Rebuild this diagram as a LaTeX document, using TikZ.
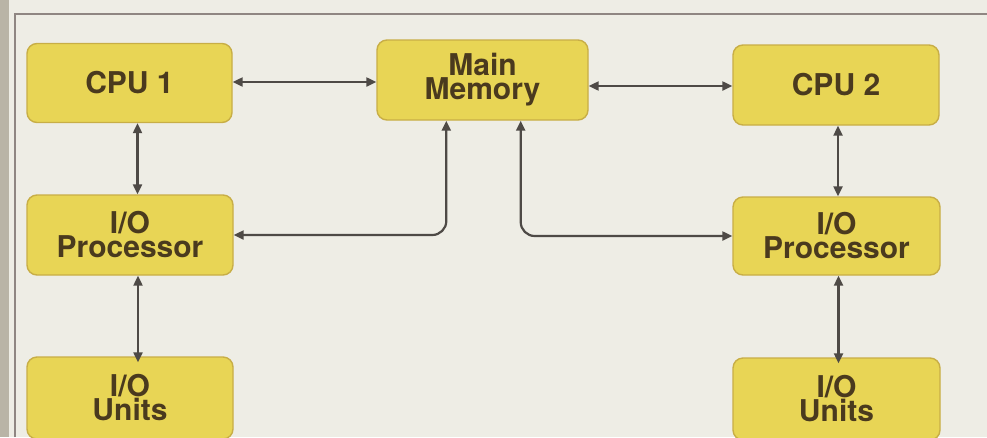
\documentclass[tikz,border=0pt]{standalone}
\usepackage{fontspec}
\setmainfont{TeX Gyre Heros}
\usetikzlibrary{arrows.meta}
\definecolor{paper}{HTML}{EEEDE5}
\definecolor{edge}{HTML}{B9B4A6}
\definecolor{framec}{HTML}{8F8682}
\definecolor{boxfill}{HTML}{E8D555}
\definecolor{boxline}{HTML}{C8AE46}
\definecolor{txt}{HTML}{4A3A1E}
\definecolor{linec}{HTML}{4E4A46}
\tikzset{
  unit/.style={draw=boxline, line width=1.4pt, fill=boxfill, rounded corners=10pt,
    text=txt, font=\bfseries\fontsize{30}{24}\selectfont, align=center,
    inner sep=0pt},
  conn/.style={draw=linec, line width=2.2pt,
    {Triangle[length=10pt,width=9pt]}-{Triangle[length=10pt,width=9pt]}},
}
\begin{document}
\begin{tikzpicture}[x=1pt,y=-1pt]
\useasboundingbox (0,0) rectangle (987,437);
\fill[paper] (0,0) rectangle (987,437);
\fill[edge] (0,0) rectangle (9,437);
\draw[framec, line width=2.2pt] (15,437) -- (15,14) -- (987,14);

\node[unit, minimum width=205pt, minimum height=79pt] (cpu1) at (129.5,83) {CPU 1};
\node[unit, minimum width=211pt, minimum height=80pt] (mm) at (482.5,80) {Main\\Memory};
\node[unit, minimum width=206pt, minimum height=80pt] (cpu2) at (836,85) {CPU 2};
\node[unit, minimum width=206pt, minimum height=80pt] (iop1) at (130,235) {I/O\\Processor};
\node[unit, minimum width=207pt, minimum height=78pt] (iop2) at (836.5,236) {I/O\\Processor};
\node[unit, minimum width=206pt, minimum height=82pt] (iou1) at (130,398) {I/O\\Units};
\node[unit, minimum width=207pt, minimum height=82pt] (iou2) at (836.5,399) {I/O\\Units};

\draw[conn] ([yshift=1pt]cpu1.east) -- ([yshift=1pt]cpu1.east -| mm.west);
\draw[conn] ([yshift=-1pt]cpu2.west -| mm.east) -- ([yshift=-1pt]cpu2.west);
\draw[conn] ([xshift=8pt]cpu1.south) -- ([xshift=8pt]cpu1.south |- iop1.north);
\draw[conn] ([xshift=2pt]cpu2.south) -- ([xshift=2pt]cpu2.south |- iop2.north);
\draw[conn] ([xshift=8pt]iop1.south) -- ([xshift=8pt,yshift=-6pt]iop1.south |- iou1.north);
\draw[conn] ([xshift=2pt]iop2.south) -- ([xshift=2pt,yshift=-6pt]iop2.south |- iou2.north);
\draw[conn, rounded corners=14pt] (iop1.east) -| ([xshift=70pt]mm.south west);
\draw[conn, rounded corners=14pt] ([xshift=-68pt]mm.south east) |- (iop2.west);
\end{tikzpicture}
\end{document}
